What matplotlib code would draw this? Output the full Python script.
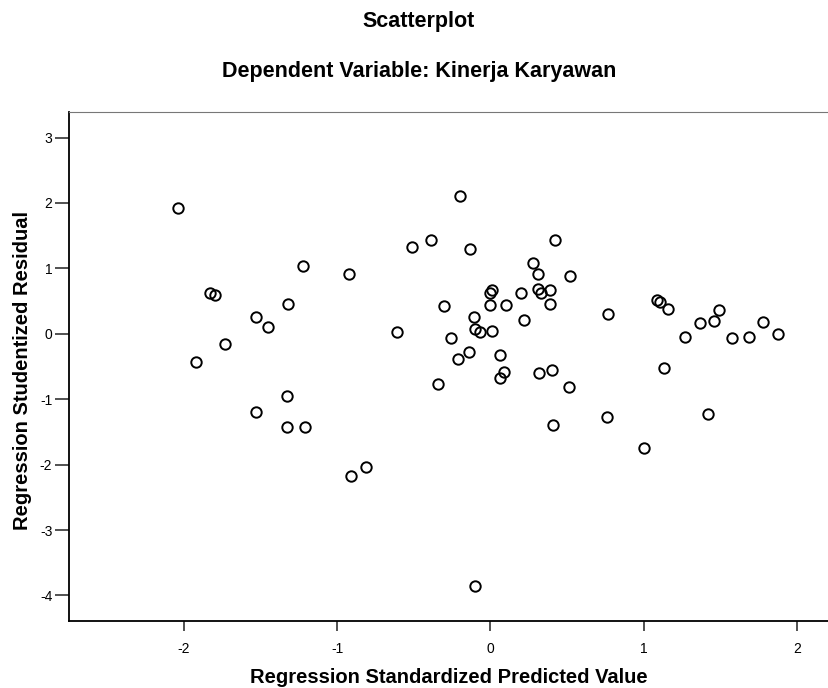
import matplotlib
matplotlib.use("Agg")
import matplotlib.pyplot as plt

plt.rcParams["font.family"] = ["Liberation Sans", "DejaVu Sans"]
plt.rcParams["axes.unicode_minus"] = False

# regression standardized predicted value vs studentized residual
pred = [
    -2.04, -1.83, -1.80, -1.92, -1.73, -1.53, -1.45, -1.32, -1.53, -1.33,
    -1.33, -1.21, -0.91, -0.81, -0.34, -0.10, 0.06, 0.09, 0.32, 0.40,
    0.51, 0.41, 0.76, 1.00, 1.42, -0.20, -0.51, -0.39, -0.13, -1.22,
    -0.92, -0.61, 0.42, 0.28, 0.31, 0.52, 0.01, 0.00, 0.31, 0.33,
    0.39, 0.20, -0.30, 0.00, 0.10, 0.39, -0.11, 0.22, -0.10, -0.07,
    0.01, -0.26, -0.14, -0.21, 0.06, 0.77, 1.09, 1.11, 1.16, 1.27,
    1.37, 1.46, 1.49, 1.58, 1.69, 1.78, 1.88, 1.13,
]
resid = [
    1.92, 0.63, 0.59, -0.43, -0.15, 0.25, 0.11, 0.45, -1.19, -0.95,
    -1.42, -1.42, -2.17, -2.03, -0.76, -3.86, -0.67, -0.59, -0.60, -0.56,
    -0.81, -1.40, -1.27, -1.75, -1.22, 2.10, 1.33, 1.44, 1.30, 1.04,
    0.92, 0.02, 1.43, 1.08, 0.91, 0.88, 0.67, 0.62, 0.68, 0.63,
    0.67, 0.63, 0.43, 0.44, 0.44, 0.46, 0.26, 0.21, 0.07, 0.02,
    0.04, -0.06, -0.28, -0.38, -0.33, 0.31, 0.52, 0.49, 0.38, -0.05,
    0.16, 0.20, 0.37, -0.06, -0.05, 0.18, -0.01, -0.53,
]
xticks = [-2, -1, 0, 1, 2]
yticks = [3, 2, 1, 0, -1, -2, -3, -4]

W, H = 829, 688
fig = plt.figure(figsize=(W / 100, H / 100), dpi=100)
ax = fig.add_axes([69 / W, 1 - 621 / H, 1 - 69 / W, (621 - 112) / H])

ax.plot(pred, resid, "o", markersize=7.5, markerfacecolor="none",
        markeredgecolor="black", markeredgewidth=1.4)

ax.set_xlim(-2.75, 2.21)
ax.set_ylim(-4.39, 3.39)
ax.set_xticks(xticks)
ax.set_yticks(yticks)
ax.tick_params(axis="both", labelsize=10, color="#333333", width=1.2)
ax.tick_params(axis="x", length=7, pad=8)
ax.tick_params(axis="y", length=10, pad=2)

ax.spines["right"].set_visible(False)
ax.spines["top"].set_color("#777777")
ax.spines["left"].set_linewidth(1.3)
ax.spines["bottom"].set_linewidth(1.3)

# axis titles placed in figure pixels
fig.text((69 + 829) / 2 / W, 1 - 683 / H, "Regression Standardized Predicted Value",
         ha="center", va="baseline", fontsize=14.5, fontweight="bold")
fig.text(23 / W, 1 - 370 / H, "Regression Studentized Residual", rotation=90,
         ha="center", va="center", fontsize=14.5, fontweight="bold")

fig.text(419 / W, 1 - 22 / H, "Scatterplot", ha="center", va="center",
         fontsize=15.5, fontweight="bold")
fig.text(419 / W, 1 - 71 / H, "Dependent Variable: Kinerja Karyawan",
         ha="center", va="center", fontsize=15.5, fontweight="bold")

fig.savefig("out.png", dpi=100)
